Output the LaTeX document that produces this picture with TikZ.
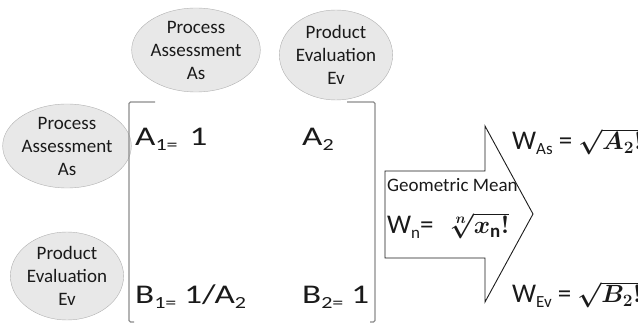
\documentclass[tikz,border=0pt]{standalone}
\usepackage{fontspec}
\setmainfont{Carlito}
\usetikzlibrary{shapes.geometric}
\definecolor{ellfill}{HTML}{E8E8E8}
\definecolor{elldraw}{HTML}{B0B0B0}
\definecolor{brk}{HTML}{8C8C8C}
\definecolor{ink}{HTML}{1A1A1A}
\tikzset{
  ell/.style={ellipse, draw=elldraw, fill=ellfill, inner sep=0pt, align=center,
    font=\fontsize{19}{23}\selectfont, text=ink},
  big/.style={anchor=base west, inner sep=0pt, font=\fontsize{27}{30}\selectfont, text=ink},
  small/.style={anchor=base west, inner sep=0pt, font=\fontsize{19}{23}\selectfont, text=ink},
  brack/.style={draw=brk, line width=1.2pt, rounded corners=1.5pt},
  arr/.style={draw=ink, line width=0.9pt, line join=miter}
}
\newcommand{\sbs}[1]{\raisebox{-5pt}{\fontsize{17}{17}\selectfont #1}}
\newcommand{\wide}[1]{\scalebox{1.3}[1]{#1}}
\begin{document}
\begin{tikzpicture}[x=1pt,y=-1pt]
\useasboundingbox (0,0) rectangle (638,323);
% ellipses
\node[ell, minimum width=108pt, minimum height=84pt] (pa1) at (196,50) {Process\\Assessment\\As};
\node[ell, minimum width=108pt, minimum height=90pt] (pe1) at (336,55) {Product\\Evaluation\\Ev};
\node[ell, minimum width=110pt, minimum height=84pt] (pa2) at (67,146) {Process\\Assessment\\As};
\node[ell, minimum width=110pt, minimum height=88pt] (pe2) at (67,276) {Product\\Evaluation\\Ev};
% bracket
\coordinate (lt) at (155,102);
\coordinate (lb) at (134,322);
\coordinate (rt) at (347,102);
\coordinate (rb) at (370,322);
\draw[brack] (lt) -- (129,102) -- (129,322) -- (lb);
\draw[brack] (rt) -- (375,102) -- (375,322) -- (rb);
% matrix entries
\node[big] (a1) at (135,146) {\wide{A\sbs{1=}\hspace{3pt} 1}};
\node[big] (a2) at (302,146) {\wide{A\sbs{2}}};
\node[big] (b1) at (135,304) {\wide{B\sbs{1=} 1/A\sbs{2}}};
\node[big] (b2) at (302,304) {\wide{B\sbs{2=} 1}};
% arrow
\coordinate (t1) at (385,171);
\coordinate (t2) at (485,171);
\coordinate (t3) at (485,126);
\coordinate (tip) at (533,214);
\coordinate (t5) at (485,302);
\coordinate (t6) at (485,258);
\coordinate (t7) at (385,258);
\draw[arr] (t1) -- (t2) -- (t3) -- (tip) -- (t5) -- (t6) -- (t7) -- cycle;
\node[small] (gm) at (387,192) {Geometric Mean};
\node[big] (wn) at (387,234) {W\sbs{n}=\hspace{14pt}{\boldmath$\sqrt[n]{x_{\mathrm{n}}!}$}};
% results
\node[big] (was) at (512,150) {W\sbs{As} = {\boldmath$\sqrt{A_2!}$}};
\node[big] (wev) at (512,303) {W\sbs{Ev} = {\boldmath$\sqrt{B_2!}$}};
\end{tikzpicture}
\end{document}
